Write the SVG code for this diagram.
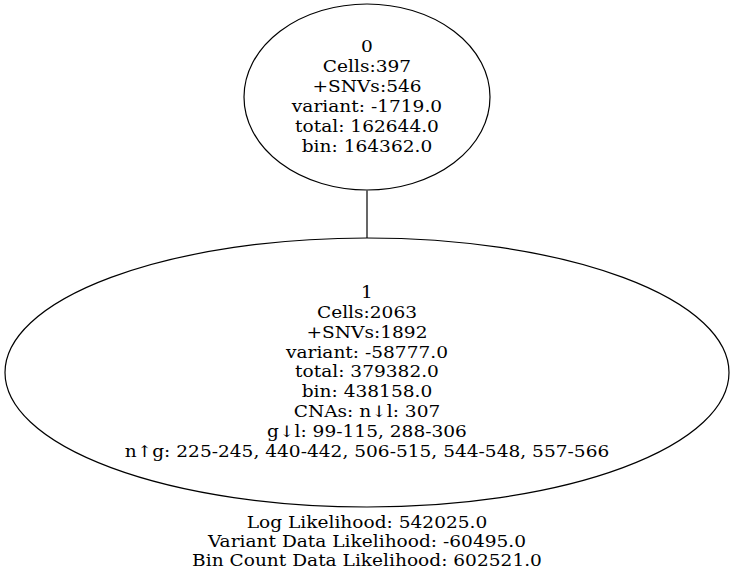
<svg xmlns="http://www.w3.org/2000/svg" width="735" height="579" viewBox="0 0 735 579">
<style>
text{font-family:"DejaVu Serif",serif;font-size:16px;fill:#000;text-anchor:middle}
.n{fill:none;stroke:#000;stroke-width:1.2}
.e{stroke:#000;stroke-width:1.2;fill:none}
</style>
<rect width="735" height="579" fill="#fff"/>
<g id="edges">
<path class="e" d="M367,190.5 L367,238"/>
</g>
<g id="node0">
<ellipse class="n" cx="367" cy="97" rx="123" ry="93"/>
<g transform="matrix(1.161,0,0,1,-59.09,0)">
<text x="367" y="52.5">0</text>
<text x="367" y="72.5">Cells:397</text>
<text x="367" y="92.5">+SNVs:546</text>
<text x="367" y="112.5">variant: -1719.0</text>
<text x="367" y="132.5">total: 162644.0</text>
<text x="367" y="152.5">bin: 164362.0</text>
</g>
</g>
<g id="node1">
<ellipse class="n" cx="367" cy="372.5" rx="362" ry="134.5"/>
<g transform="matrix(1.161,0,0,1,-59.09,0)">
<text x="367" y="298.3">1</text>
<text x="367" y="318.1">Cells:2063</text>
<text x="367" y="337.9">+SNVs:1892</text>
<text x="367" y="357.7">variant: -58777.0</text>
<text x="367" y="377.5">total: 379382.0</text>
<text x="367" y="397.3">bin: 438158.0</text>
<text x="367" y="417.1">CNAs: n↓l: 307</text>
<text x="367" y="436.9">g↓l: 99-115, 288-306</text>
<text x="367" y="456.7">n↑g: 225-245, 440-442, 506-515, 544-548, 557-566</text>
</g>
</g>
<g id="label" transform="matrix(1.161,0,0,1,-59.09,0)">
<text x="367" y="527.7">Log Likelihood: 542025.0</text>
<text x="367" y="546.9">Variant Data Likelihood: -60495.0</text>
<text x="367" y="566">Bin Count Data Likelihood: 602521.0</text>
</g>
</svg>
